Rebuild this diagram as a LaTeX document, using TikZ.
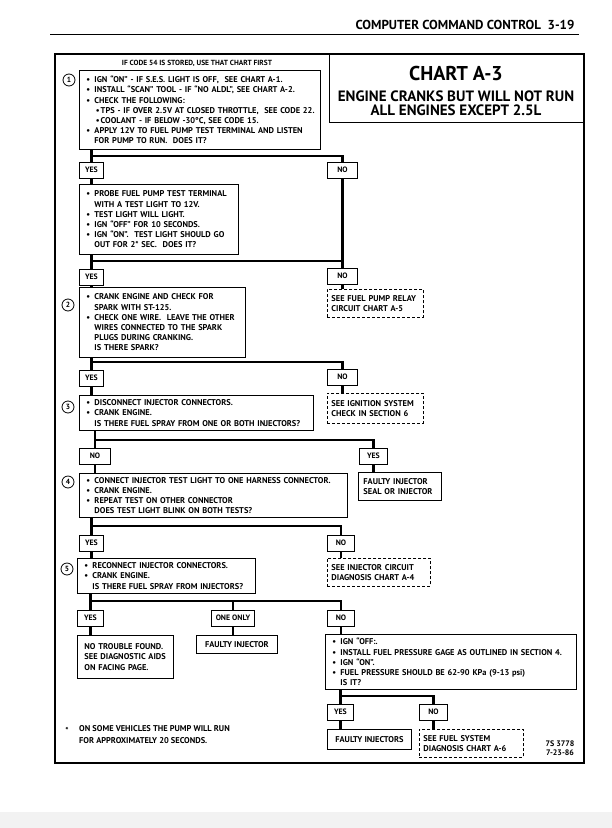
\documentclass[tikz,border=0pt]{standalone}
\usepackage{fontspec}
\setmainfont{PT Sans}
\usepackage{tikz}
\usetikzlibrary{positioning,calc}

\newcommand{\itm}{\makebox[8pt][l]{\textbullet}}
\newcommand{\ind}{\hspace*{8pt}}
\newcommand{\sub}{\hspace*{1.5pt}\textbullet\hspace{1pt}}

\begin{document}
\begin{tikzpicture}[x=1pt, y=-1pt,
  txt/.style={font=\bfseries\fontsize{8.4}{10.2}\selectfont},
  box/.style={draw, line width=0.9pt, anchor=north west, align=left, inner xsep=7pt, inner ysep=2pt, text width=#1, txt},
  box/.default=100pt,
  dbox/.style={box=#1, dashed, dash pattern=on 3pt off 2pt, inner xsep=4pt},
  lbl/.style={draw, line width=0.9pt, anchor=north west, minimum height=15.5pt, minimum width=#1, inner sep=1pt, font=\bfseries\fontsize{7.8}{9}\selectfont},
  lbl/.default=24pt,
  circ/.style={circle, draw, line width=0.8pt, minimum size=12pt, inner sep=0pt, font=\bfseries\fontsize{7.5}{8}\selectfont},
  conn/.style={line width=2.3pt}]
\useasboundingbox (0,0) rectangle (612,828);
\fill[gray!10] (0,812) rectangle (612,828);
% page header
\node[anchor=east, font=\bfseries\fontsize{13}{15}\selectfont] (hdr) at (578,25) {COMPUTER COMMAND CONTROL\ \ 3-19};
\draw[line width=1pt] (50,34) -- (579,34);
% frame and title
\draw[line width=1.3pt] (55,54) rectangle (584,763);
\node[draw, line width=1pt, anchor=north west, minimum width=255pt, minimum height=68pt, inner sep=0pt] (ttl) at (329,54) {};
\node[font=\bfseries\fontsize{20}{22}\selectfont] (chart) at (456,73) {CHART A-3};
\node[font=\bfseries\fontsize{15}{13.5}\selectfont, align=center] (sub) at (456,103) {ENGINE CRANKS BUT WILL NOT RUN\\ALL ENGINES EXCEPT 2.5L};
\node[font=\bfseries\fontsize{7.4}{9}\selectfont] (note) at (197,63) {IF CODE 54 IS STORED, USE THAT CHART FIRST};
% step 1
\node[circ] (c1) at (69,80) {1};
\node[box=227pt, minimum height=79pt] (s1) at (79,70) {\itm IGN ``ON'' - IF S.E.S. LIGHT IS OFF,\ \ SEE CHART A-1.\\
  \itm INSTALL ``SCAN'' TOOL - IF ``NO ALDL'', SEE CHART A-2.\\
  \itm CHECK THE FOLLOWING:\\
  \mbox{\ind\sub TPS - IF OVER 2.5V AT CLOSED THROTTLE,\ \ SEE CODE 22.}\\
  \ind\sub COOLANT - IF BELOW -30°C, SEE CODE 15.\\
  \itm APPLY 12V TO FUEL PUMP TEST TERMINAL AND LISTEN\\
  \ind FOR PUMP TO RUN.\ \ DOES IT?};
\node[lbl] (y1) at (79,162) {YES};
\node[lbl=30pt] (n1) at (327,162) {NO};
% probe
\node[box=145pt, minimum height=70pt] (s2) at (79,184) {\itm PROBE FUEL PUMP TEST TERMINAL\\
  \ind WITH A TEST LIGHT TO 12V.\\
  \itm TEST LIGHT WILL LIGHT.\\
  \itm IGN ``OFF'' FOR 10 SECONDS.\\
  \itm IGN ``ON''.\ \ TEST LIGHT SHOULD GO\\
  \ind OUT FOR 2* SEC.\ \ DOES IT?};
\node[lbl] (y2) at (79,269) {YES};
\node[lbl=30pt] (n2) at (327,268) {NO};
\node[dbox=88pt, minimum height=28pt] (r1) at (327,289) {SEE FUEL PUMP RELAY\\CIRCUIT CHART A-5};
% step 2
\node[circ] (c2) at (68,305) {2};
\node[box=152pt, minimum height=70pt] (s3) at (79,287) {\itm CRANK ENGINE AND CHECK FOR\\
  \ind SPARK WITH ST-125.\\
  \itm CHECK ONE WIRE.\ \ LEAVE THE OTHER\\
  \ind WIRES CONNECTED TO THE SPARK\\
  \ind PLUGS DURING CRANKING.\\
  \ind IS THERE SPARK?};
\node[lbl] (y3) at (79,370) {YES};
\node[lbl=30pt] (n3) at (327,369) {NO};
\node[dbox=88pt, minimum height=30pt] (r2) at (327,393) {SEE IGNITION SYSTEM\\CHECK IN SECTION 6};
% step 3
\node[circ] (c3) at (68,407) {3};
\node[box=220pt, minimum height=35pt] (s4) at (79,395) {\itm DISCONNECT INJECTOR CONNECTORS.\\
  \itm CRANK ENGINE.\\
  \ind IS THERE FUEL SPRAY FROM ONE OR BOTH INJECTORS?};
\node[lbl=31pt] (n4) at (79,448) {NO};
\node[lbl=28pt] (yy4) at (359,448) {YES};
\node[box=73pt, minimum height=28pt, inner xsep=5pt] (f1) at (358,472) {FAULTY INJECTOR\\SEAL OR INJECTOR};
% step 4
\node[circ] (c4) at (68,482) {4};
\node[box=254pt, minimum height=44pt] (s5) at (79,473) {\itm CONNECT INJECTOR TEST LIGHT TO ONE HARNESS CONNECTOR.\\
  \itm CRANK ENGINE.\\
  \itm REPEAT TEST ON OTHER CONNECTOR\\
  \ind DOES TEST LIGHT BLINK ON BOTH TESTS?};
\node[lbl] (y5) at (79,535) {YES};
\node[lbl=27pt] (n5) at (327,535) {NO};
\node[dbox=95pt, minimum height=28pt] (r3) at (327,558) {SEE INJECTOR CIRCUIT\\DIAGNOSIS CHART A-4};
% step 5
\node[circ] (c5) at (67,569) {5};
\node[box=164pt, minimum height=35pt] (s6) at (77,558) {\itm RECONNECT INJECTOR CONNECTORS.\\
  \itm CRANK ENGINE.\\
  \ind IS THERE FUEL SPRAY FROM INJECTORS?};
\node[lbl=26pt] (y6) at (77,610) {YES};
\node[lbl=43pt] (o6) at (211,610) {ONE ONLY};
\node[lbl=27pt] (n6) at (327,610) {NO};
\node[box=82pt, minimum height=43pt] (t1) at (77,635) {NO TROUBLE FOUND.\\SEE DIAGNOSTIC AIDS\\ON FACING PAGE.};
\node[draw, line width=0.9pt, anchor=north west, minimum width=81pt, minimum height=18pt, txt] (f2) at (196,635) {FAULTY INJECTOR};
\node[box=237pt, minimum height=55pt] (s7) at (325,634) {\itm IGN ``OFF:.\\
  \itm INSTALL FUEL PRESSURE GAGE AS OUTLINED IN SECTION 4.\\
  \itm IGN ``ON''.\\
  \itm FUEL PRESSURE SHOULD BE 62-90 KPa (9-13 psi)\\
  \ind IS IT?};
\node[lbl=26pt] (y7) at (327,704) {YES};
\node[lbl=28pt] (n7) at (419,704) {NO};
\node[draw, line width=0.9pt, anchor=north west, minimum width=84pt, minimum height=20pt, txt] (f3) at (327,729) {FAULTY INJECTORS};
\node[dbox=96pt, minimum height=28pt] (r4) at (419,729) {SEE FUEL SYSTEM\\DIAGNOSIS CHART A-6};
% footnote and code
\node[txt] (star) at (67,730) {*};
\node[txt, anchor=north west, align=left, inner sep=0pt] (foot) at (79,725) {ON SOME VEHICLES THE PUMP WILL RUN\\[2.5pt]FOR APPROXIMATELY 20 SECONDS.};
\node[align=center, font=\bfseries\fontsize{8}{9.5}\selectfont] (code) at (560,748) {7S 3778\\7-23-86};
% connectors
\coordinate (j1) at (0,156); \coordinate (j2) at (0,261); \coordinate (j3) at (0,362);
\coordinate (j4) at (0,440); \coordinate (j5) at (0,526); \coordinate (j6) at (0,601);
\coordinate (j7) at (0,696);
\draw[conn] (s1.south -| y1) -- (y1.north); \draw[conn] (j1 -| y1) -| (n1.north);
\draw[conn] (y1.south) -- (y1.south |- s2.north); \draw[conn] (n1.south) -- (n2.north);
\draw[conn] (s2.south -| y2) -- (y2.north); \draw[conn] (j2 -| y2) -- (j2 -| n2);
\draw[conn] (y2.south) -- (y2.south |- s3.north); \draw[conn] (n2.south) -- (r1.north -| n2);
\draw[conn] (s3.south -| y3) -- (y3.north); \draw[conn] (j3 -| y3) -| (n3.north);
\draw[conn] (y3.south) -- (y3.south |- s4.north); \draw[conn] (n3.south) -- (r2.north -| n3);
\draw[conn] (s4.south -| n4) -- (n4.north); \draw[conn] (j4 -| n4) -| (yy4.north);
\draw[conn] (n4.south) -- (n4.south |- s5.north); \draw[conn] (yy4.south) -- (f1.north -| yy4);
\draw[conn] (s5.south -| y5) -- (y5.north); \draw[conn] (j5 -| y5) -| (n5.north);
\draw[conn] (y5.south) -- (y5.south |- s6.north); \draw[conn] (n5.south) -- (r3.north -| n5);
\draw[conn] (s6.south -| y6) -- (y6.north); \draw[conn] (j6 -| y6) -| (n6.north);
\draw[conn] (j6 -| o6) -- (o6.north);
\draw[conn] (y6.south) -- (y6.south |- t1.north); \draw[conn] (o6.south) -- (o6.south |- f2.north);
\draw[conn] (n6.south) -- (n6.south |- s7.north);
\draw[conn] (s7.south -| y7) -- (y7.north); \draw[conn] (j7 -| y7) -| (n7.north);
\draw[conn] (y7.south) -- (y7.south |- f3.north); \draw[conn] (n7.south) -- (n7.south |- r4.north);
\end{tikzpicture}
\end{document}
